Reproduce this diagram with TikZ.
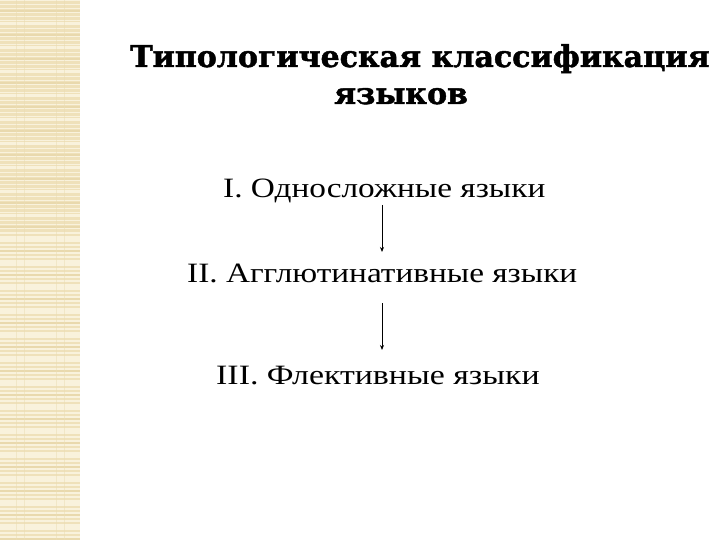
\documentclass[tikz,border=0pt]{standalone}
\usepackage{fontspec}
\usetikzlibrary{arrows.meta}
\setmainfont{Liberation Serif}
\newfontfamily\bodyfont[FakeStretch=1.19]{Liberation Serif}
\newfontfamily\bodyfontw[FakeStretch=1.21]{Liberation Serif}
\newfontfamily\titlefont[FakeBold=1.5]{DejaVu Serif}
\begin{document}
\begin{tikzpicture}[x=1pt,y=-1pt,
  item/.style={inner sep=0pt,anchor=base west,font=\bodyfont\fontsize{28}{30}\selectfont},
  ttl/.style={inner sep=0pt,anchor=base,font=\titlefont\bfseries\fontsize{30}{32}\selectfont},
  arr/.style={-{Stealth[length=5pt,width=4pt]},line width=0.8pt}]
\useasboundingbox (0,0) rectangle (720,540);
\fill[white] (0,0) rectangle (720,540);
% left decorative strip
\definecolor{stripA}{HTML}{EFE1BA}
\definecolor{stripB}{HTML}{F9F2DC}
\definecolor{stripC}{HTML}{E6D6A8}
\fill[stripA] (0,0) rectangle (80,540);
\foreach \y in {0,4,...,536}{
  \fill[stripB] (0,\y) rectangle (80,\y+1.5);
}
\foreach \y in {0,24,...,528}{
  \fill[stripC!70!stripA] (0,\y+10) rectangle (80,\y+12);
  \fill[stripB] (0,\y+22) rectangle (80,\y+24);
}
\foreach \x in {16,24,56,64}{
  \fill[stripC!40!stripA,opacity=0.5] (\x,0) rectangle (\x+1,540);
}
% title
\node[ttl] (t1) at (420,67) {Типологическая классификация};
\node[ttl] (t2) at (401,104) {языков};
% items
\node[item] (i1) at (223,197) {I. Односложные языки};
\node[item] (i2) at (187,282) {II. Агглютинативные языки};
\node[item,font=\bodyfontw\fontsize{28}{30}\selectfont] (i3) at (216,384) {III. Флективные языки};
\coordinate (a1s) at (382,205);
\coordinate (a1e) at (382,252);
\coordinate (a2s) at (382,303);
\coordinate (a2e) at (382,350);
\draw[arr] (a1s) -- (a1e);
\draw[arr] (a2s) -- (a2e);
\end{tikzpicture}
\end{document}
